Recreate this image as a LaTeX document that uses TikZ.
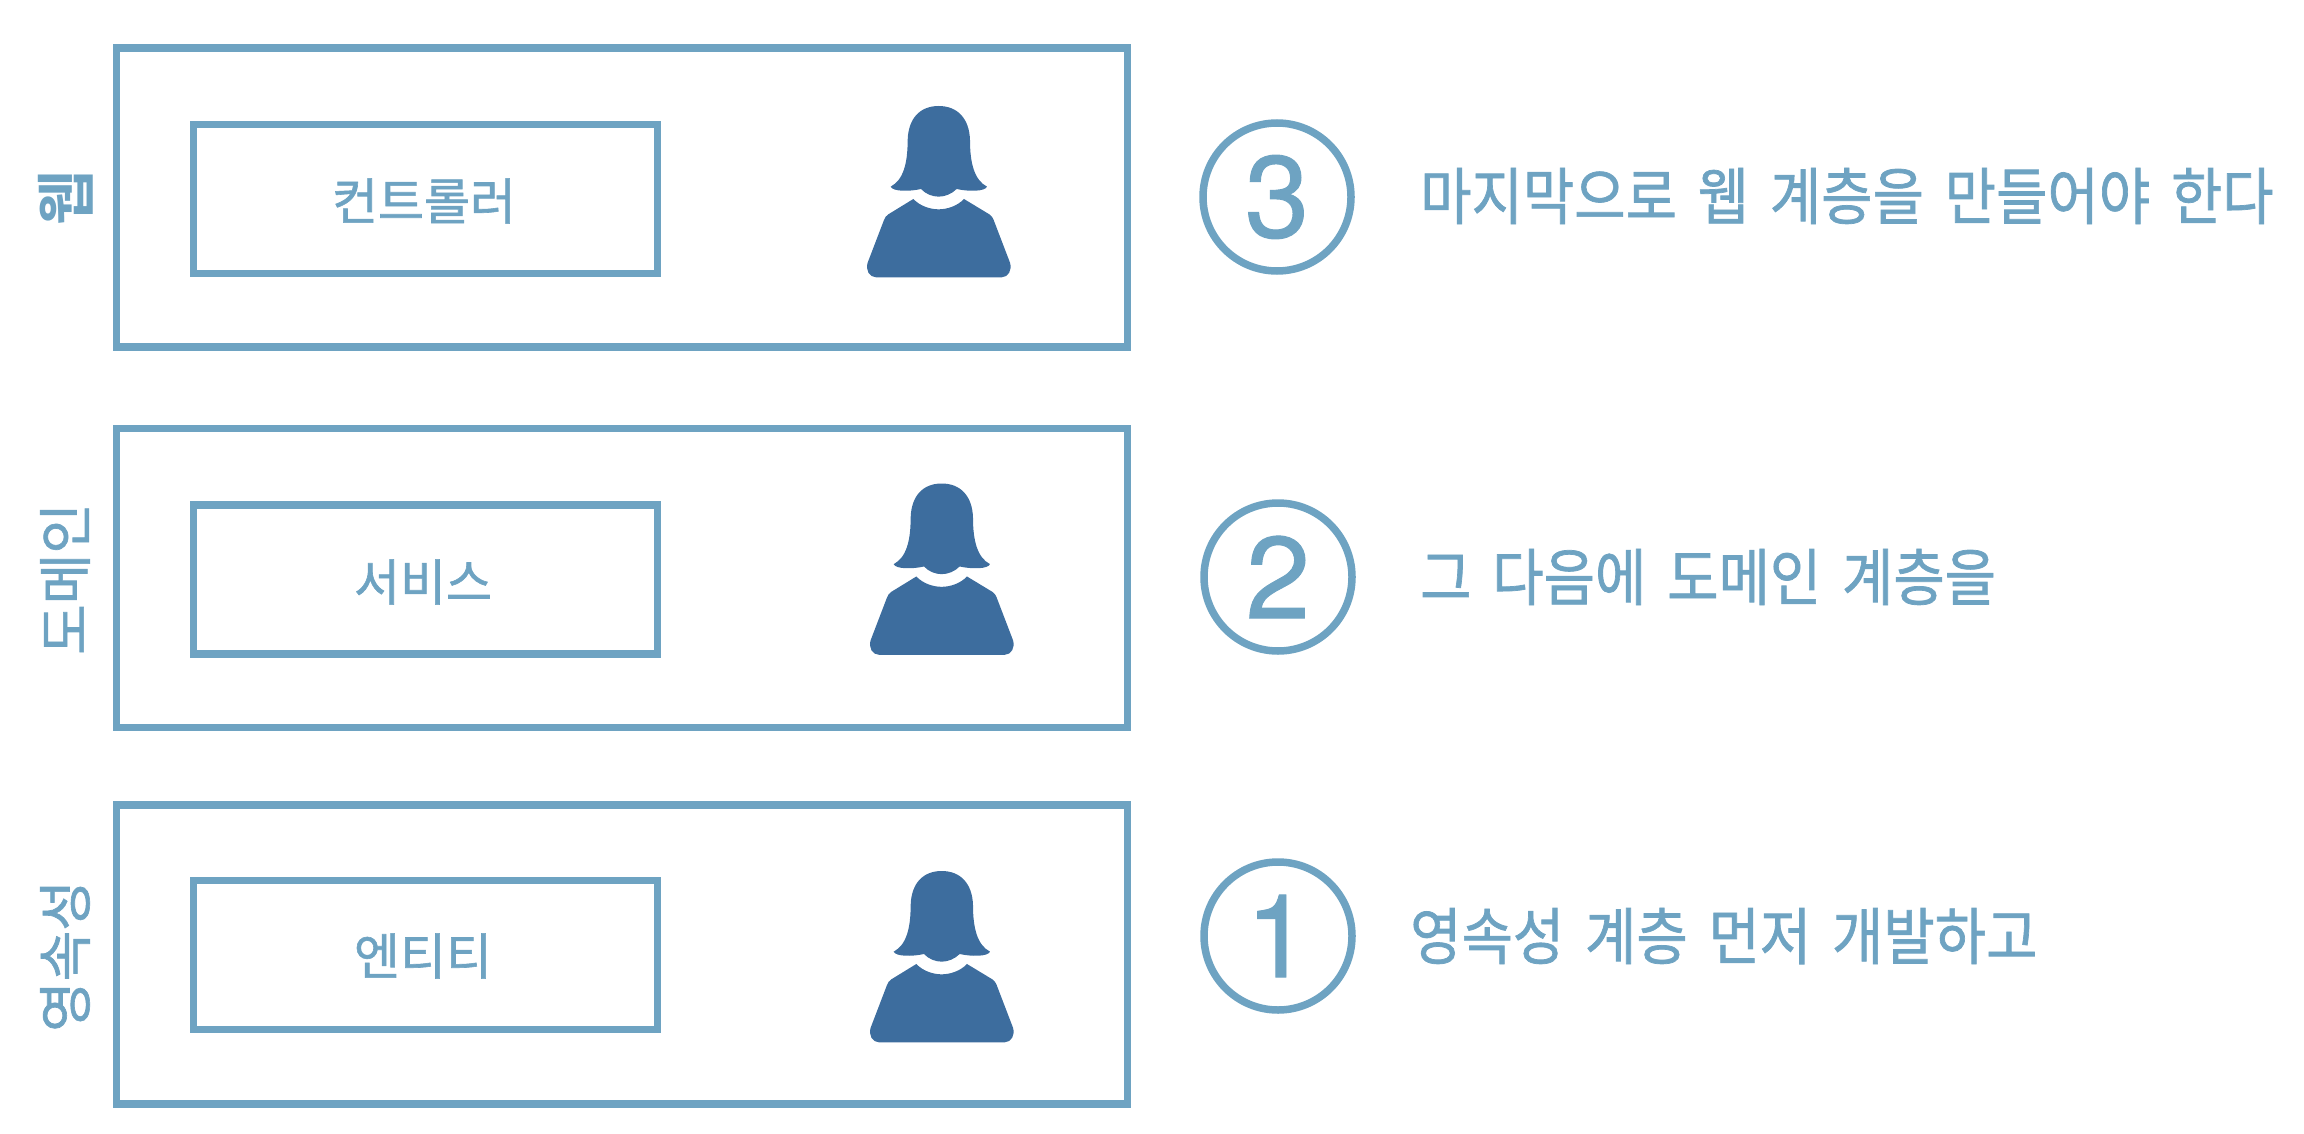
\documentclass[tikz,border=0pt]{standalone}
\usepackage{fontspec}
\setmainfont[FakeBold=1.2]{Noto Sans CJK KR}
\newfontfamily\digitfont[FakeBold=0.8]{TeX Gyre Heros}
\newfontfamily\heavyfont{Noto Sans CJK KR Bold}
\definecolor{lightblue}{HTML}{6EA3C2}
\definecolor{darkblue}{HTML}{3D6D9E}
\newcommand{\ksize}[1]{\fontsize{#1}{#1}\selectfont}
\newcommand{\desctext}[1]{\scalebox{0.946}[1.05]{\ksize{59}\spaceskip=22pt #1}}
\tikzset{
  x=1pt,y=-1pt,
  outerbox/.style={draw=lightblue,line width=7.5pt,minimum width=1011pt,minimum height=299pt,inner sep=0pt},
  innerbox/.style={draw=lightblue,line width=7.5pt,minimum width=464pt,minimum height=149pt,inner sep=0pt},
  numcircle/.style={circle,draw=lightblue,line width=7.5pt,minimum size=148pt,inner sep=0pt,text=lightblue},
  boxlabel/.style={text=lightblue,inner sep=0pt},
  desc/.style={text=lightblue,inner sep=0pt,anchor=west},
  layerlabel/.style={text=lightblue,inner sep=0pt,rotate=90},
  person/.pic={
    \fill[darkblue,x=0.3333pt,y=-0.3333pt]
      (152,320) .. controls (190,300) and (203,250) .. (203,180)
      .. controls (205,115) and (240,78) .. (296,78)
      .. controls (352,78) and (388,115) .. (390,180)
      .. controls (390,250) and (403,300) .. (441,320)
      .. controls (435,335) and (385,335) .. (350,327)
      .. controls (335,342) and (315,350) .. (296,350)
      .. controls (277,350) and (257,342) .. (243,327)
      .. controls (208,335) and (158,335) .. (152,320) -- cycle;
    \fill[darkblue,x=0.3333pt,y=-0.3333pt]
      (220,357) .. controls (240,378) and (270,388) .. (296,388)
      .. controls (322,388) and (352,378) .. (372,357)
      -- (448,403) .. controls (455,408) and (458,412) .. (461,420)
      -- (510,548) .. controls (517,570) and (505,592) .. (485,592)
      -- (108,592) .. controls (88,592) and (76,570) .. (83,548)
      -- (132,420) .. controls (135,412) and (138,408) .. (145,403) -- cycle;
  },
}
\begin{document}
\begin{tikzpicture}
\useasboundingbox (0,0) rectangle (2304,1134);
% row 3 (top)
\node[outerbox] (outerA) at (622,197.5) {};
\node[innerbox] (innerA) at (425.5,199) {};
\node[boxlabel] (ctl) at (424,201) {\ksize{50}컨트롤러};
\node[layerlabel] (web) at (66,198) {\heavyfont\ksize{60}웹};
\pic (personA) at (840,80) {person};
\node[numcircle] (numA) at (1277,197) {\digitfont\ksize{116}3};
\node[desc] (descA) at (1420,196) {\desctext{마지막으로 웹 계층을 만들어야 한다}};
% row 2
\node[outerbox] (outerB) at (622,578) {};
\node[innerbox] (innerB) at (425.5,579.5) {};
\node[boxlabel] (svc) at (423,582) {\ksize{50}서비스};
\node[layerlabel] (dom) at (65,579) {\ksize{55}도메인};
\pic (personB) at (843,457.5) {person};
\node[numcircle] (numB) at (1278,577) {\digitfont\ksize{116}2};
\node[desc] (descB) at (1420,577) {\desctext{그 다음에 도메인 계층을}};
% row 1
\node[outerbox] (outerC) at (622,954.5) {};
\node[innerbox] (innerC) at (425.5,955) {};
\node[boxlabel] (ent) at (423,956) {\ksize{50}엔티티};
\node[layerlabel] (per) at (65,956) {\ksize{55}영속성};
\pic (personC) at (843,845) {person};
\node[numcircle] (numC) at (1278,936) {\digitfont\ksize{116}1};
\node[desc] (descC) at (1410,936) {\desctext{영속성 계층 먼저 개발하고}};
\end{tikzpicture}
\end{document}
